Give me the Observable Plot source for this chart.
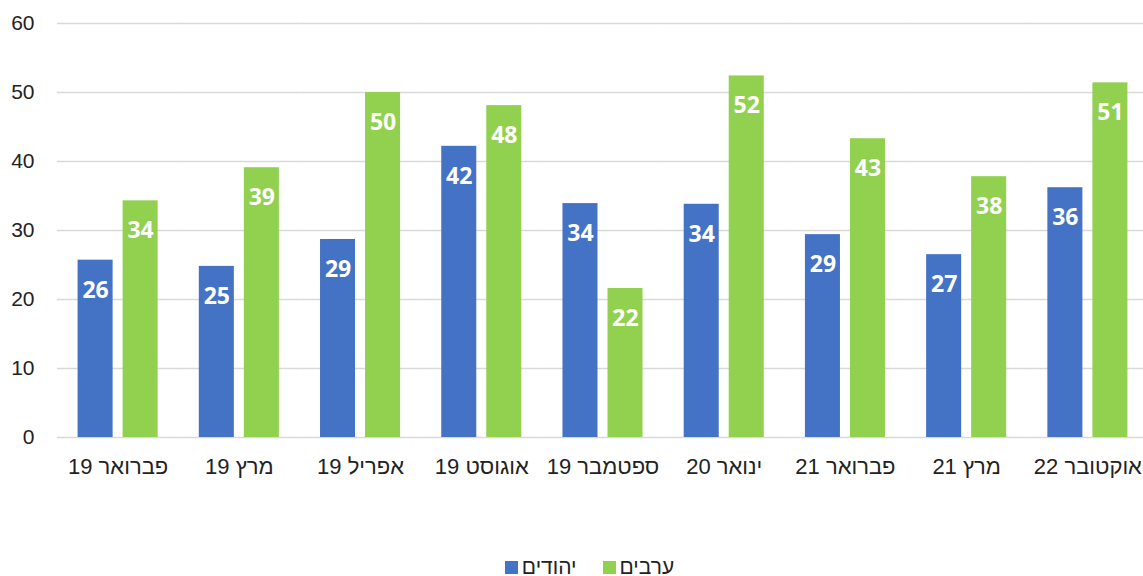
<!DOCTYPE html>
<html><head><meta charset="utf-8">
<script src="https://cdn.jsdelivr.net/npm/d3@7"></script>
<script src="https://cdn.jsdelivr.net/npm/@observablehq/plot@0.6"></script>
<style>
body{margin:0;background:#fff;font-family:"Liberation Sans",Arial,sans-serif;overflow:hidden;}
#legend{display:flex;justify-content:center;align-items:center;height:86px;padding-left:36px;box-sizing:border-box;font-size:21px;color:#222;}
.sw{display:inline-block;width:13px;height:13px;margin-right:4px;}
.item{display:flex;align-items:center;margin:0 13px;position:relative;top:34px;}
</style></head>
<body>
<div id="chart"></div>
<div id="legend"></div>
<script>
const categories = ["פברואר 19","מרץ 19","אפריל 19","אוגוסט 19","ספטמבר 19","ינואר 20","פברואר 21","מרץ 21","אוקטובר 22"];
const series = ["יהודים","ערבים"];
const jews = [25.7,24.8,28.7,42.2,33.9,33.8,29.4,26.5,36.2];
const arabs = [34.3,39.1,50.0,48.1,21.6,52.4,43.3,37.8,51.4];
const yTicks = [0,10,20,30,40,50,60];
const colors = ["#4472C4","#92D050"];

const data = [];
categories.forEach((c,i)=>{
  data.push({cat:c, s:series[0], v:jews[i]});
  data.push({cat:c, s:series[1], v:arabs[i]});
});

const chart = Plot.plot({
  width:1143, height:490,
  marginTop:23, marginBottom:53, marginLeft:57, marginRight:-5,
  style:{fontFamily:"'Liberation Sans', Arial, sans-serif", fontSize:"21px", color:"#222", background:"#fff"},
  fx:{domain:categories, padding:0, round:false, axis:"bottom", label:null, tickSize:0, tickPadding:21,
      tickFormat:d=>"\u202B"+d+"\u202C"},
  x:{domain:series, axis:null, round:false, paddingInner:0.222, paddingOuter:0.457},
  y:{domain:[0,60], ticks:yTicks, tickSize:0, tickPadding:23, label:null},
  color:{domain:series, range:colors},
  marks:[
    Plot.ruleY(yTicks, {stroke:"#d9d9d9", strokeWidth:1.5}),
    Plot.barY(data, {fx:"cat", x:"s", y:"v", fill:"s"}),
    Plot.text(data, {fx:"cat", x:"s", y:"v", text:d=>d3.format(".0f")(d.v), dy:30,
      fill:"white", fontWeight:"bold", fontSize:23, fontFamily:"'Open Sans', sans-serif"})
  ]
});
chart.querySelectorAll('g[aria-label="fx-axis tick label"] text, g[aria-label="fx-axis"] text').forEach(t=>t.setAttribute("font-size","22"));
document.getElementById("chart").appendChild(chart);

const lg = document.getElementById("legend");
series.forEach((s,i)=>{
  const it = document.createElement("div"); it.className="item";
  const sw = document.createElement("span"); sw.className="sw"; sw.style.background=colors[i];
  const t = document.createElement("span"); t.textContent=s;
  it.appendChild(sw); it.appendChild(t); lg.appendChild(it);
});
</script>
</body></html>
